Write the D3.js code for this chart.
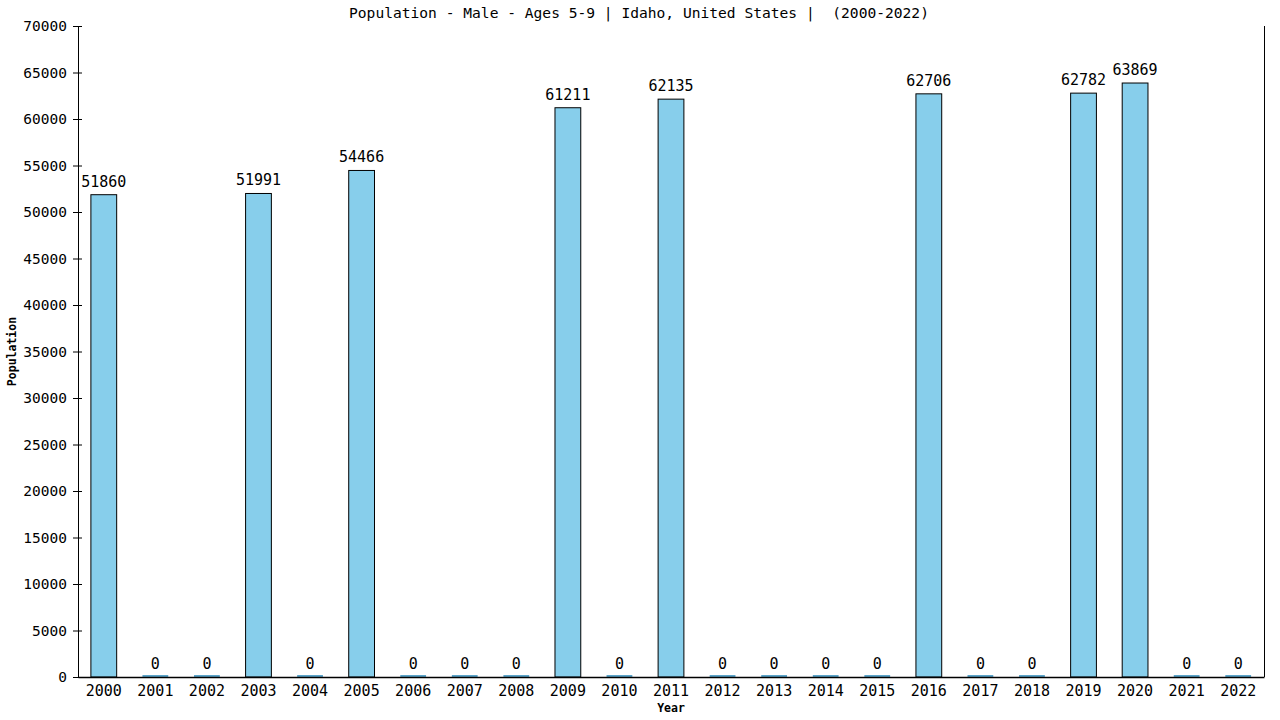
<!DOCTYPE html>
<html>
<head>
<meta charset="utf-8">
<script src="https://cdn.jsdelivr.net/npm/d3@7"></script>
<style>
    body { margin: 0; background: #fff; }
    text { font-family: "DejaVu Sans Mono", monospace; fill: #000; }
</style>
</head>
<body>
<svg id="chart" width="1280" height="720"></svg>
<script>
/*global d3*/
var years = ["2000", "2001", "2002", "2003", "2004", "2005", "2006", "2007",
    "2008", "2009", "2010", "2011", "2012", "2013", "2014", "2015", "2016",
    "2017", "2018", "2019", "2020", "2021", "2022"];
var population = [51860, 0, 0, 51991, 0, 54466, 0, 0, 0, 61211, 0, 62135,
    0, 0, 0, 0, 62706, 0, 0, 62782, 63869, 0, 0];
var yTicks = [0, 5000, 10000, 15000, 20000, 25000, 30000, 35000, 40000,
    45000, 50000, 55000, 60000, 65000, 70000];
var title = "Population - Male - Ages 5-9 | Idaho, United States |  (2000-2022)";

(function () {
    "use strict";

    var svg = d3.select("#chart"),
        margin = {top: 26, right: 16, bottom: 43, left: 78},
        width = 1280 - margin.left - margin.right,
        height = 720 - margin.top - margin.bottom,
        g = svg.append("g").attr("transform", "translate(" + margin.left + "," + margin.top + ")"),
        x,
        y,
        yAxis,
        data;

    data = years.map(function (yr, i) {
        return {year: yr, value: population[i]};
    });

    x = d3.scaleBand().domain(years).range([0, width]).paddingInner(0.5).paddingOuter(0.25);
    y = d3.scaleLinear().domain([0, 70000]).range([height, 0]);

    // bars
    g.selectAll("rect.bar")
        .data(data.filter(function (d) { return d.value > 0; }))
        .enter().append("rect")
        .attr("class", "bar")
        .attr("x", function (d) { return x(d.year); })
        .attr("y", function (d) { return y(d.value); })
        .attr("width", x.bandwidth())
        .attr("height", function (d) { return height - y(d.value); })
        .attr("fill", "#87ceeb")
        .attr("stroke", "#000")
        .attr("stroke-width", 1);

    // zero bars show as a thin line
    g.selectAll("rect.zero")
        .data(data.filter(function (d) { return d.value === 0; }))
        .enter().append("rect")
        .attr("class", "zero")
        .attr("x", function (d) { return x(d.year); })
        .attr("y", function (d) { return y(d.value) - 2; })
        .attr("width", x.bandwidth())
        .attr("height", 2)
        .attr("fill", "#5ba4c9");

    // value labels
    g.selectAll("text.val")
        .data(data)
        .enter().append("text")
        .attr("class", "val")
        .attr("x", function (d) { return x(d.year) + x.bandwidth() / 2; })
        .attr("y", function (d) { return y(d.value) - 8; })
        .attr("text-anchor", "middle")
        .style("font-size", "15px")
        .text(function (d) { return d.value; });

    // y axis
    yAxis = g.append("g")
        .call(d3.axisLeft(y).tickValues(yTicks).tickSize(5).tickPadding(6).tickFormat(d3.format("d")));
    yAxis.select(".domain").remove();
    yAxis.selectAll(".tick line").attr("x2", 4).attr("x1", -5).attr("stroke", "#000");
    yAxis.selectAll(".tick text").style("font-size", "14.5px").attr("x", -11);

    g.append("line").attr("x1", 0.5).attr("x2", 0.5).attr("y1", 0).attr("y2", height).attr("stroke", "#000");
    g.append("line").attr("x1", width + 0.5).attr("x2", width + 0.5).attr("y1", 0).attr("y2", height).attr("stroke", "#000");

    // x axis
    g.append("g")
        .attr("transform", "translate(0," + height + ")")
        .call(d3.axisBottom(x).tickSize(0).tickPadding(8))
        .call(function (a) {
            a.select(".domain").attr("stroke", "#000").attr("stroke-width", 1.5);
            a.selectAll(".tick text").style("font-size", "15px");
        });

    // title and axis labels
    svg.append("text")
        .attr("x", 639)
        .attr("y", 18)
        .attr("text-anchor", "middle")
        .style("font-size", "14.6px")
        .style("white-space", "pre")
        .text(title);

    svg.append("text")
        .attr("x", margin.left + width / 2)
        .attr("y", 712)
        .attr("text-anchor", "middle")
        .style("font-size", "11.5px")
        .style("font-weight", "bold")
        .text("Year");

    svg.append("text")
        .attr("transform", "translate(16," + (margin.top + height / 2) + ") rotate(-90)")
        .attr("text-anchor", "middle")
        .style("font-size", "11.5px")
        .style("font-weight", "bold")
        .text("Population");
}());
</script>
</body>
</html>
